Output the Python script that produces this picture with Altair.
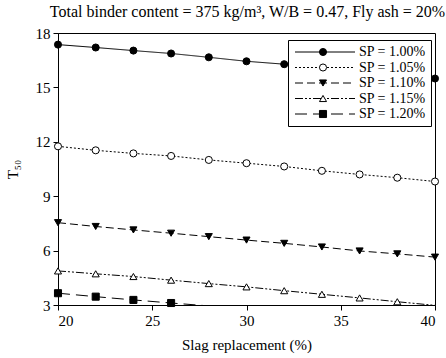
import altair as alt
import pandas as pd

slag = [20, 22, 24, 26, 28, 30, 32, 34, 36, 38, 40]
series_names = ["SP = 1.00%", "SP = 1.05%", "SP = 1.10%", "SP = 1.15%", "SP = 1.20%"]
sp100 = [17.36, 17.20, 17.03, 16.87, 16.66, 16.44, 16.28, 16.08, 15.88, 15.68, 15.49]
sp105 = [11.75, 11.53, 11.36, 11.22, 11.00, 10.82, 10.64, 10.40, 10.20, 10.02, 9.81]
sp110 = [7.54, 7.33, 7.14, 6.96, 6.77, 6.58, 6.40, 6.20, 5.98, 5.82, 5.64]
sp115 = [4.88, 4.72, 4.57, 4.37, 4.18, 4.00, 3.79, 3.59, 3.39, 3.18, 2.98]
sp120 = [3.65, 3.46, 3.28, 3.11, 2.95]

dashes = [[1, 0], [2, 2], [8, 4], [8, 2, 2, 2, 2, 2], [12, 6]]
shapes = ["circle", "circle", "triangle-down", "triangle-up", "square"]
fills = ["black", "white", "black", "white", "black"]
strokes = ["black", "black", "black", "black", "black"]

rows = []
for name, vals in zip(series_names, [sp100, sp105, sp110, sp115, sp120]):
    for xv, yv in zip(slag, vals):
        rows.append({"slag": xv, "t50": yv, "series": name})
df = pd.DataFrame(rows)

# marker legend keys (a separate domain so the two legends stay apart)
marker_names = [n + " " for n in series_names]

FONT = "Liberation Serif"

x_enc = alt.X("slag:Q", scale=alt.Scale(domain=[20, 40], nice=False),
              axis=alt.Axis(values=[20, 25, 30, 35, 40], title="Slag replacement (%)",
                            titlePadding=9))
y_enc = alt.Y("t50:Q", scale=alt.Scale(domain=[3, 18], nice=False, zero=False),
              axis=alt.Axis(values=[3, 6, 9, 12, 15, 18], title="T₅₀", titlePadding=15))

base = alt.Chart(df)

lines = base.mark_line(clip=True, color="black", strokeWidth=1).encode(
    x=x_enc, y=y_enc,
    strokeDash=alt.StrokeDash(
        "series:N",
        scale=alt.Scale(domain=series_names, range=dashes),
        legend=alt.Legend(orient="none", legendX=230, legendY=7, title=None,
                          symbolType="M-1,0H11", symbolSize=100,
                          symbolStrokeColor="black", symbolStrokeWidth=1,
                          strokeColor="black", fillColor="white", padding=5,
                          labelFont=FONT, labelFontSize=14, labelColor="black",
                          labelOffset=52, rowPadding=1.5, zindex=0),
    ),
)

marker_legend = alt.Legend(orient="none", legendX=253, legendY=7, title=None,
                           symbolSize=50, symbolStrokeColor="black",
                           symbolStrokeWidth=1, padding=5,
                           labelFont=FONT, labelFontSize=14, labelOpacity=0,
                           rowPadding=1.5, zindex=1)

points = base.transform_filter("datum.t50 >= 3").transform_calculate(
    series_pt="datum.series + ' '"
).mark_point(filled=True, strokeWidth=1, size=50, opacity=1).encode(
    x=x_enc, y=y_enc,
    shape=alt.Shape("series_pt:N", scale=alt.Scale(domain=marker_names, range=shapes),
                    legend=marker_legend),
    fill=alt.Fill("series_pt:N", scale=alt.Scale(domain=marker_names, range=fills),
                  legend=marker_legend),
    stroke=alt.Stroke("series_pt:N", scale=alt.Scale(domain=marker_names, range=strokes),
                      legend=marker_legend),
)

chart = alt.layer(lines, points).properties(
    width=377,
    height=272,
    title=alt.Title("Total binder content = 375 kg/m³, W/B = 0.47, Fly ash = 20%",
                    font=FONT, fontSize=16, fontWeight="normal", color="black",
                    anchor="middle", offset=6, dx=1),
    autosize=alt.AutoSizeParams(type="none"),
    padding={"left": 58, "top": 33, "right": 11, "bottom": 53},
).configure_view(stroke="black", strokeWidth=1).configure_axis(
    grid=False, domainColor="black", tickColor="black", tickSize=5,
    labelFont=FONT, labelFontSize=15, labelColor="black", labelPadding=3,
    titleFont=FONT, titleFontSize=15, titleFontWeight="normal", titleColor="black",
)

chart.save("out.html", embed_options={"renderer": "svg", "actions": False})
